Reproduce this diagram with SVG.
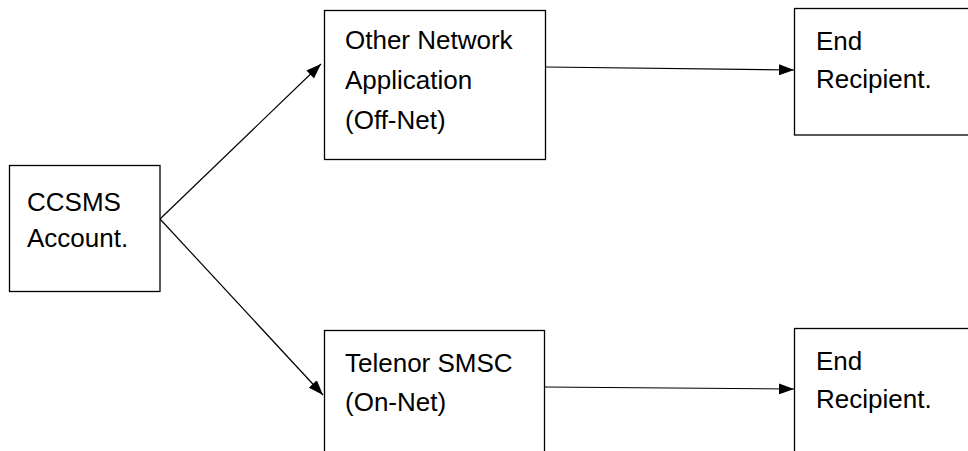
<svg xmlns="http://www.w3.org/2000/svg" width="968" height="451" viewBox="0 0 968 451">
<style>
.box{fill:#fff;stroke:#000;stroke-width:1.3}
.t{font-family:"Liberation Sans",Arial,sans-serif;font-size:26px;fill:#000}
.c{stroke:#000;stroke-width:1.2;fill:none;marker-end:url(#ah)}
</style>
<defs>
<marker id="ah" viewBox="0 0 15 11" refX="15" refY="5.5" markerWidth="15" markerHeight="11" markerUnits="userSpaceOnUse" orient="auto">
<path d="M0,0 L15,5.5 L0,11 Z" fill="#000"/>
</marker>
</defs>
<rect width="968" height="451" fill="#fff"/>
<g id="connectors">
<path class="c" d="M160,219 L321,64"/>
<path class="c" d="M160,219 L323,395"/>
<path class="c" d="M546,67 L794,70"/>
<path class="c" d="M544,387 L794,389"/>
</g>
<g id="ccsms">
<rect class="box" x="9.5" y="165.5" width="150.5" height="126"/>
<text class="t" x="27" y="211">CCSMS</text>
<text class="t" x="27" y="247">Account.</text>
</g>
<g id="offnet">
<rect class="box" x="324.5" y="10.5" width="221" height="149"/>
<text class="t" x="345" y="49">Other Network</text>
<text class="t" x="345" y="89">Application</text>
<text class="t" x="345" y="129">(Off-Net)</text>
</g>
<g id="end1">
<rect class="box" x="794.5" y="8.5" width="190" height="126.5"/>
<text class="t" x="816" y="50">End</text>
<text class="t" x="816" y="88">Recipient.</text>
</g>
<g id="onnet">
<rect class="box" x="324.5" y="330.5" width="220" height="140"/>
<text class="t" x="345" y="372">Telenor SMSC</text>
<text class="t" x="345" y="411">(On-Net)</text>
</g>
<g id="end2">
<rect class="box" x="794.5" y="328.5" width="190" height="140"/>
<text class="t" x="816" y="370">End</text>
<text class="t" x="816" y="408">Recipient.</text>
</g>
</svg>
